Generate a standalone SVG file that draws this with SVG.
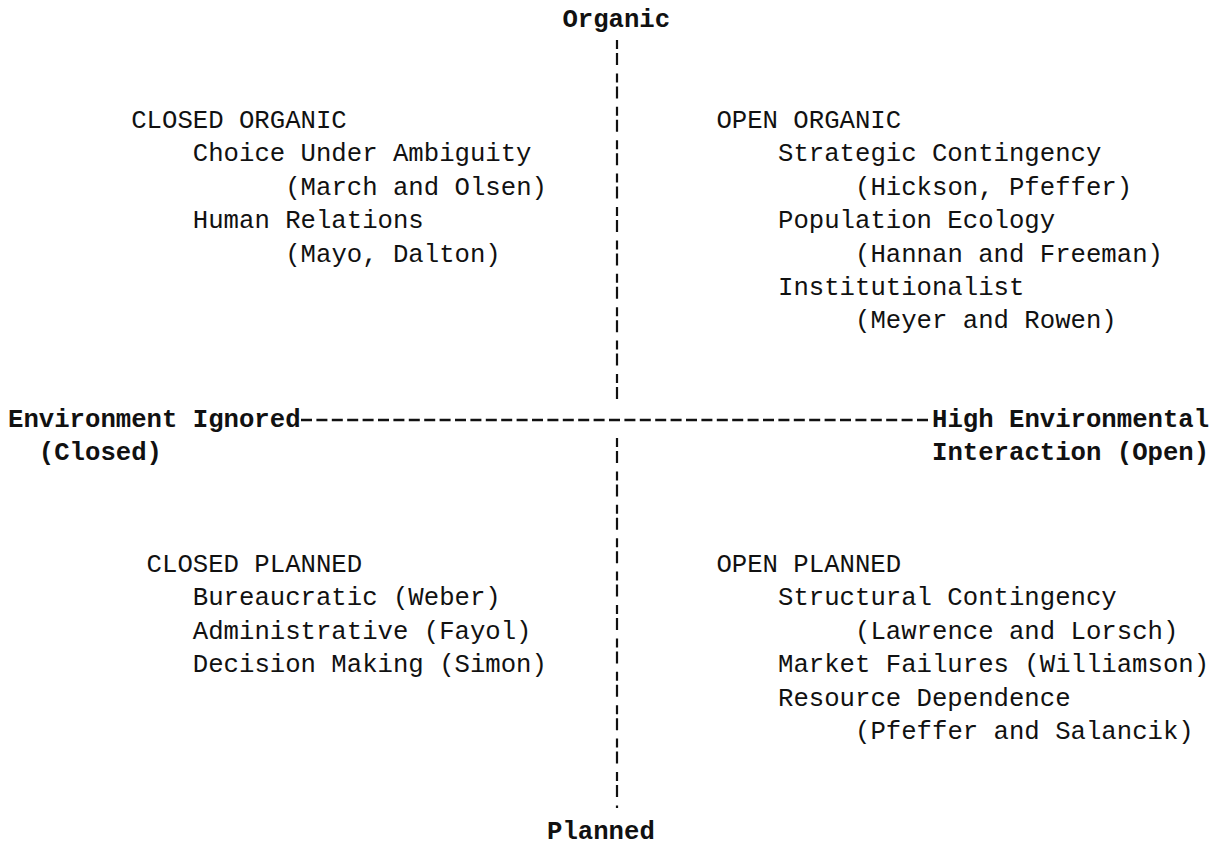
<svg xmlns="http://www.w3.org/2000/svg" width="1223" height="845" viewBox="0 0 1223 845">
  <style>
    text { font-family: "Liberation Mono", "DejaVu Sans Mono", monospace; font-size: 25.67px; fill: #111; }
    .axis { font-weight: bold; }
    .rule { stroke: #111; fill: none; }
    .h { stroke-width: 2.6; stroke-dasharray: 11 4.4; }
    .v { stroke-width: 2.2; stroke-dasharray: 9 4 12 8.4; }
  </style>
  <rect width="1223" height="845" fill="#fff"/>

  <!-- axes: typed dashes on a 15.4px x 33.4px character grid -->
  <g id="connectors">
    <line class="rule h" x1="301" y1="420" x2="932" y2="420"/>
    <line class="rule v" x1="617" y1="40" x2="617" y2="405"/>
    <line class="rule v" x1="617" y1="438" x2="617" y2="808"/>
  </g>

  <g id="axis-top"><text class="axis" x="562.4" y="27">Organic</text></g>
  <g id="axis-bottom"><text class="axis" x="547" y="839">Planned</text></g>
  <g id="axis-left">
    <text class="axis" x="8" y="427">Environment Ignored</text>
    <text class="axis" x="38.8" y="460.4">(Closed)</text>
  </g>
  <g id="axis-right">
    <text class="axis" x="932" y="427">High Environmental</text>
    <text class="axis" x="932" y="460.4">Interaction (Open)</text>
  </g>

  <g id="closed-organic">
    <text x="131.2" y="128">CLOSED ORGANIC</text>
    <text x="192.8" y="161.4">Choice Under Ambiguity</text>
    <text x="285.2" y="194.8">(March and Olsen)</text>
    <text x="192.8" y="228.2">Human Relations</text>
    <text x="285.2" y="261.6">(Mayo, Dalton)</text>
  </g>

  <g id="open-organic">
    <text x="716.4" y="128">OPEN ORGANIC</text>
    <text x="778" y="161.4">Strategic Contingency</text>
    <text x="855" y="194.8">(Hickson, Pfeffer)</text>
    <text x="778" y="228.2">Population Ecology</text>
    <text x="855" y="261.6">(Hannan and Freeman)</text>
    <text x="778" y="295">Institutionalist</text>
    <text x="855" y="328.4">(Meyer and Rowen)</text>
  </g>

  <g id="closed-planned">
    <text x="146.6" y="572">CLOSED PLANNED</text>
    <text x="192.8" y="605.4">Bureaucratic (Weber)</text>
    <text x="192.8" y="638.8">Administrative (Fayol)</text>
    <text x="192.8" y="672.2">Decision Making (Simon)</text>
  </g>

  <g id="open-planned">
    <text x="716.4" y="572">OPEN PLANNED</text>
    <text x="778" y="605.4">Structural Contingency</text>
    <text x="855" y="638.8">(Lawrence and Lorsch)</text>
    <text x="778" y="672.2">Market Failures (Williamson)</text>
    <text x="778" y="705.6">Resource Dependence</text>
    <text x="855" y="739">(Pfeffer and Salancik)</text>
  </g>
</svg>
